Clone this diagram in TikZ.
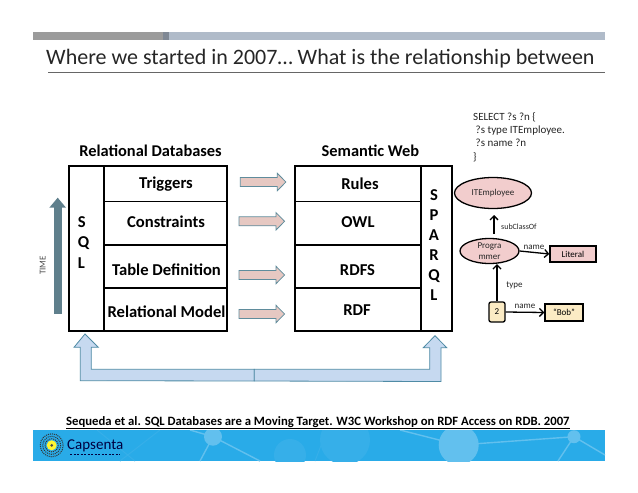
\documentclass[tikz,border=0pt]{standalone}
\usepackage{fontspec}
\setmainfont{Carlito}
\usetikzlibrary{arrows.meta,shapes.geometric}
\definecolor{barg}{HTML}{9B9B9B}
\definecolor{bardk}{HTML}{7F8894}
\definecolor{barb}{HTML}{B0BBC9}
\definecolor{foot}{HTML}{29ABE8}
\definecolor{footl}{HTML}{62C0EE}
\definecolor{footf}{HTML}{36AFE9}
\definecolor{arrowf}{HTML}{E6C8C2}
\definecolor{arrowe}{HTML}{5F8C9C}
\definecolor{bluef}{HTML}{C6D9F0}
\definecolor{bluee}{HTML}{4F8BA5}
\definecolor{timec}{HTML}{5F7F8C}
\definecolor{pinkf}{HTML}{F2CDCD}
\definecolor{creamf}{HTML}{FBEBC4}
\tikzset{
 cell/.style={draw=black,line width=1.2pt,minimum width=#1,inner sep=0pt},
 txt/.style={inner sep=0pt,text=black},
 celltxt/.style={inner sep=0pt,text=black,font=\bfseries\fontsize{16.6}{18}\selectfont},
 headtxt/.style={inner sep=0pt,text=black,anchor=base,font=\bfseries\fontsize{16.4}{18}\selectfont},
 blockarrow/.style={draw=arrowe,fill=arrowf,line width=0.8pt},
 owlnode/.style={draw=black,line width=1.3pt,ellipse,fill=pinkf,inner sep=0pt},
 lit/.style={draw=black,line width=1.3pt,inner sep=0pt,font=\fontsize{9}{10.7}\selectfont},
 conn/.style={draw=black,line width=1.3pt,-{Straight Barb[length=4pt,width=8pt]}},
 small/.style={inner sep=0pt,font=\fontsize{9}{10.7}\selectfont,text=black!85},
}
\begin{document}
\begin{tikzpicture}[x=1pt,y=-1pt]
\useasboundingbox (0,0) rectangle (638,493);
\fill[white] (0,0) rectangle (638,493);
% top bar
\fill[barb] (169,32) rectangle (605,40);
\fill[barg] (33,32) rectangle (163,40);
\fill[bardk] (163,32) rectangle (169,40);
% title
\node[txt,anchor=base west,font=\fontsize{22}{24}\selectfont,text=black!85] (title) at (46,64.5) {Where we started in 2007… What is the relationship between};
\draw[black!60,line width=0.7pt] (48,72.5) -- (605,72.5);
% headings
\node[headtxt] (hrel) at (150.5,156.5) {Relational Databases};
\node[headtxt] (hsem) at (370.5,156) {Semantic Web};
% left stack
\node[cell=34.4pt,minimum height=165pt,anchor=north west] (sql) at (68.4,165.4) {};
\node[celltxt,align=left,font=\bfseries\fontsize{16.6}{20.5}\selectfont] (sqlt) at (83.5,242.5) {S\\Q\\L};
\node[cell=123.6pt,minimum height=35.3pt,anchor=north west] (trig) at (102.8,165.4) {};
\node[celltxt] (trigt) at (166,184) {Triggers};
\node[cell=123.6pt,minimum height=43.6pt,anchor=north west] (cons) at (102.8,200.7) {};
\node[celltxt] (const) at (166,222) {Constraints};
\node[cell=123.6pt,minimum height=43pt,anchor=north west] (tabl) at (102.8,244.3) {};
\node[celltxt] (tablt) at (166.5,270) {Table Definition};
\node[cell=123.6pt,minimum height=43pt,anchor=north west] (relm) at (102.8,287.3) {};
\node[celltxt] (relmt) at (166.5,311.7) {Relational Model};
\draw[black,line width=1.8pt] (sql.north east) -- (sql.south east);
% right stack
\node[cell=126pt,minimum height=35.3pt,anchor=north west] (rules) at (294.4,165.4) {};
\node[celltxt] (rulest) at (360,184) {Rules};
\node[cell=126pt,minimum height=43.6pt,anchor=north west] (owl) at (294.4,200.7) {};
\node[celltxt] (owlt) at (358,222) {OWL};
\node[cell=126pt,minimum height=43pt,anchor=north west] (rdfs) at (294.4,244.3) {};
\node[celltxt] (rdfst) at (357.5,270) {RDFS};
\node[cell=126pt,minimum height=43pt,anchor=north west] (rdf) at (294.4,287.3) {};
\node[celltxt] (rdft) at (357,310) {RDF};
\node[cell=31pt,minimum height=165pt,anchor=north west] (sparql) at (420.4,165.4) {};
\node[celltxt,align=center,font=\bfseries\fontsize{16.6}{20}\selectfont] (sparqlt) at (434,245) {S\\P\\A\\R\\Q\\L};
% horizontal block arrows
\foreach \xx/\yy in {240.3/182,239/221.3,239/275,239/314}{
 \draw[blockarrow] (\xx,\yy-4.5) -- ++(37,0) -- ++(0,-4.2) -- ++(8.6,8.7) -- ++(-8.6,8.7) -- ++(0,-4.2) -- ++(-37,0) -- cycle;
}
% time arrow
\fill[timec] (54,314) rectangle (62.3,205);
\fill[timec] (49.3,207.7) -- (57.7,197.7) -- (66,207.7) -- cycle;
\node[txt,rotate=90,font=\fontsize{9}{10}\selectfont,text=black!70] (time) at (42.7,265.5) {TIME};
% bottom block double arrow
\draw[draw=bluee,fill=bluef,line width=0.8pt] (80.3,380.7) -- (80.3,347.3) -- (74,347.3) -- (85,334) -- (98.3,347.3) -- (91.3,347.3) -- (91.3,369.3) -- (254.3,369.3) -- (254.3,381) -- cycle;
\draw[draw=bluee,fill=bluef,line width=0.8pt] (254.3,381) -- (254.3,369.3) -- (429.7,369.3) -- (429.7,347.7) -- (423.3,347.7) -- (435,335.7) -- (446.7,347.7) -- (441,347.7) -- (441,381.5) -- cycle;
% SPARQL text
\node[txt,anchor=north west,font=\fontsize{11}{13.4}\selectfont,align=left,text=black!85] (q) at (473,112) {SELECT ?s ?n \{\\\ ?s type ITEmployee.\\\ ?s name ?n\\\}};
% graph
\node[owlnode,minimum width=77pt,minimum height=31pt] (it) at (493,193) {};
\node[small] (itt) at (it) {ITEmployee};
\node[owlnode,minimum width=59pt,minimum height=25pt] (prog) at (489.5,251) {};
\node[small,align=center] (progt) at (prog) {Progra\\mmer};
\node[lit,fill=pinkf,minimum width=46pt,minimum height=16pt] (lit) at (573,254) {Literal};
\node[lit,fill=creamf,rounded corners=2pt,minimum width=16pt,minimum height=20pt] (two) at (497,312) {2};
\node[lit,fill=creamf,minimum width=38pt,minimum height=17pt] (bob) at (564,312.5) {“Bob”};
\coordinate (ita) at (494,233.5);
\coordinate (itb) at (494,215);
\draw[conn] (ita) -- (itb);
\draw[conn] (prog.east) -- (lit.west);
\draw[conn] (two.north) -- (two.north |- prog.south);
\draw[conn] (two.east) -- (bob.west);
\node[small,anchor=west,font=\fontsize{8}{9}\selectfont] (sub) at (501,226.5) {subClassOf};
\node[small,anchor=base] (n1) at (534,249) {name};
\node[small,anchor=base] (ty) at (514.5,287) {type};
\node[small,anchor=base] (n2) at (525,308) {name};
% citation
\node[txt,anchor=base west,font=\bfseries\fontsize{12.7}{14}\selectfont] (cite) at (66,425.5) {Sequeda et al. SQL Databases are a Moving Target. W3C Workshop on RDF Access on RDB. 2007};
\draw[black,line width=0.9pt] (66,428) -- (570,428);
% footer
\fill[foot] (33,430) rectangle (605,461);
\begin{scope}
\clip (33,430) rectangle (605,461);
\fill[footf] (345,440) circle (25);
\fill[footf] (290,455) circle (16);
\draw[footf,line width=1pt] (97,430) -- (135,461) (327,430) -- (315,461) (120,461) -- (160,430);
\draw[footl,line width=1.4pt] (200,461) -- (213,436.7) -- (260,461) (213,436.7) -- (190,430) (400,430) -- (458.7,445) -- (574,436.7) -- (558,461) (574,436.7) -- (605,455);
\fill[footl] (213,436.7) circle (9);
\fill[footl] (458.7,445) circle (20);
\fill[footl] (574,436.7) circle (6.5);
\end{scope}
% logo
\foreach \r in {6.5,9,11.5}{\draw[black!80,line width=1pt,densely dotted] (51.7,445.3) circle (\r);}
\fill[yellow!80!white] (51.7,445.3) circle (5);
\fill[black!70] (51.7,445.3) circle (1.5);
\node[txt,anchor=base west,font=\fontsize{15}{16}\selectfont,text=black!75!blue] (logo) at (67,449) {Capsenta};
\draw[black!75!blue,line width=1pt,dash pattern=on 2pt off 1.5pt] (70,454.5) -- (120,454.5);
\end{tikzpicture}
\end{document}
